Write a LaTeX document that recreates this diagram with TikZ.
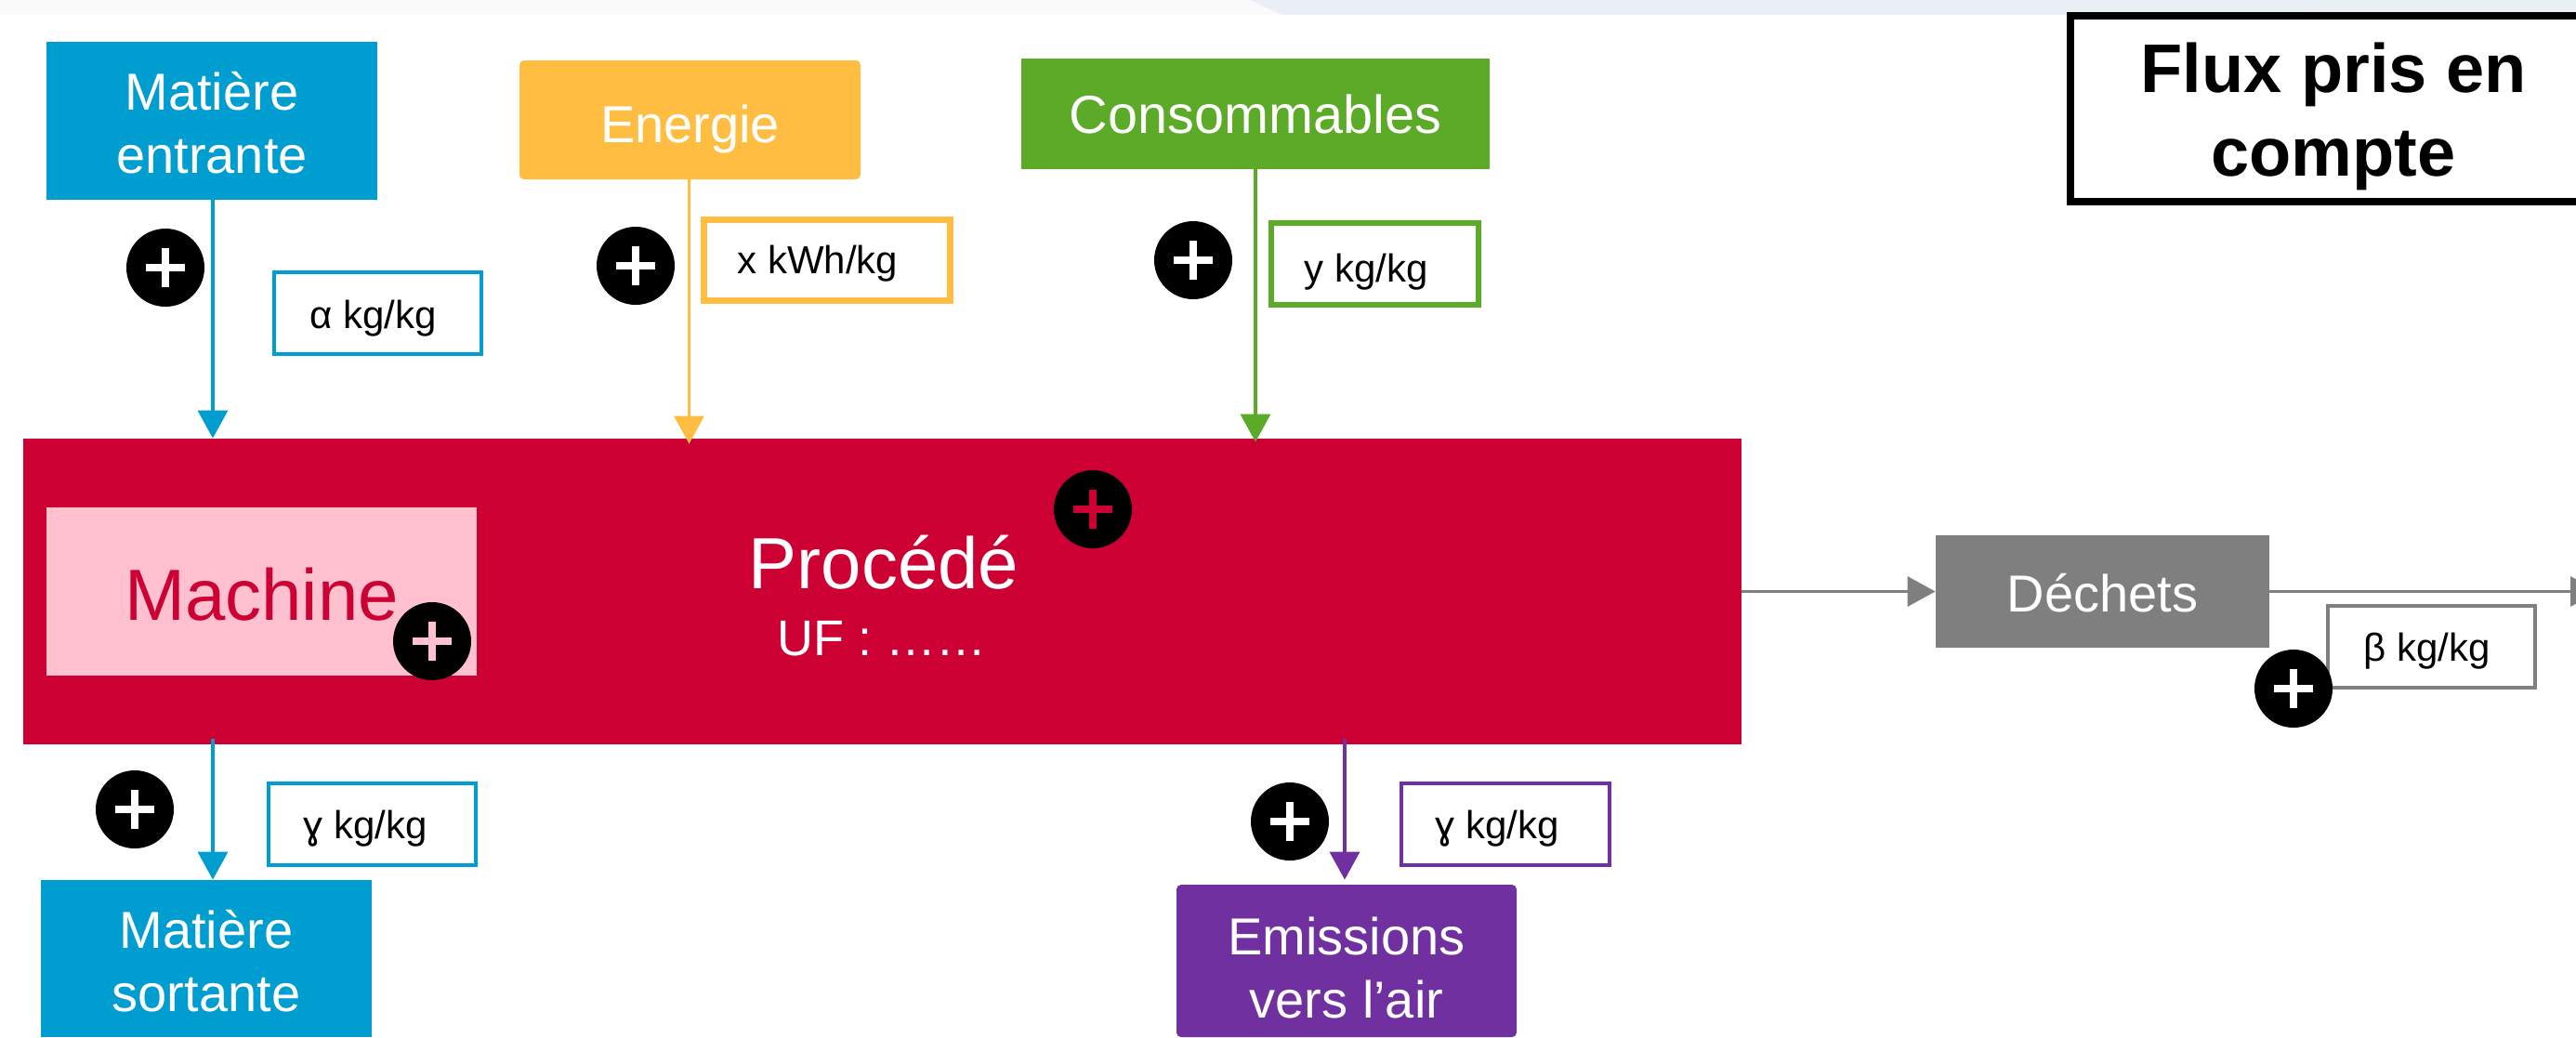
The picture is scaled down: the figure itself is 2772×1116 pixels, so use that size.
\documentclass[tikz,border=0pt]{standalone}
\usepackage{fontspec}
\setmainfont{Liberation Sans}
\usetikzlibrary{arrows.meta,calc}
\definecolor{cblue}{HTML}{009DD1}
\definecolor{cyellow}{HTML}{FFBD41}
\definecolor{cgreen}{HTML}{5BAB28}
\definecolor{cred}{HTML}{CC0033}
\definecolor{cpurple}{HTML}{7030A0}
\definecolor{cgrey}{HTML}{7F7F7F}
\definecolor{cpink}{HTML}{FFC0D0}
\definecolor{cband}{HTML}{EAEEF5}
\definecolor{cbandr}{HTML}{E8F0F4}
\definecolor{cbandl}{HTML}{FAFAFA}
\tikzset{
  x=0.5pt,y=-0.5pt,
  boxn/.style={rectangle,inner sep=0pt,text=white,align=center,font=\fontsize{28}{34}\selectfont},
  tagn/.style={rectangle,inner sep=0pt,draw=#1,fill=white,text=black,font=\fontsize{21}{25}\selectfont},
  drop/.style={text height=#1,text depth=0pt},
  plusn/.style={circle,fill=black,inner sep=0pt,minimum size=42pt,
    path picture={\fill[#1] ([shift={(-10.5pt,-2pt)}]path picture bounding box.center) rectangle ++(21pt,4pt);
      \fill[#1] ([shift={(-2pt,-10.5pt)}]path picture bounding box.center) rectangle ++(4pt,21pt);}},
  arr/.style={draw=#1,line width=1.75pt,-{Triangle[length=15pt,width=16pt,fill=#1]}},
}
\begin{document}
\begin{tikzpicture}
\useasboundingbox (0,0) rectangle (2772,1116);
% top band
\fill[cbandl] (0,0) rectangle (2772,16);
\fill[cbandr] (2490,0) rectangle (2772,16);
\fill[cband] (1345,0) -- (2490,0) -- (2490,16) -- (1380,16) -- cycle;
% process
\node[boxn,fill=cred,minimum width=924.5pt,minimum height=164.5pt] (proc) at (949.5,636.5) {};
\node[rectangle,fill=cpink,minimum width=231.5pt,minimum height=90.5pt,inner sep=0pt,text=cred,font=\fontsize{39}{46}\selectfont,drop=30.5pt] (mach) at (281.5,636.5) {Machine};
\node[anchor=base,inner sep=0pt,text=white,font=\fontsize{39}{46}\selectfont] (proct) at (951,633) {Procédé};
\node[anchor=base,inner sep=0pt,text=white,font=\fontsize{27}{32}\selectfont] (uf) at (949,705) {UF : ……};
\node[plusn=cred] (pproc) at (1176,548) {};
\node[plusn=cpink] (pmach) at (465,690) {};
% sources
\node[boxn,fill=cblue,minimum width=178pt,minimum height=85pt,drop=56pt] (me) at (228,130) {Matière\\entrante};
\node[boxn,fill=cyellow,rounded corners=2.5pt,minimum width=183.5pt,minimum height=64pt,drop=24pt] (en) at (742.5,129) {Energie};
\node[boxn,fill=cgreen,minimum width=252pt,minimum height=59.5pt,drop=20.5pt,font=\fontsize{28.8}{34}\selectfont] (co) at (1351,122.5) {Consommables};
\node[boxn,fill=cblue,minimum width=178pt,minimum height=84.5pt,drop=56.5pt] (ms) at (222,1031.5) {Matière\\sortante};
\node[boxn,fill=cpurple,rounded corners=2.5pt,minimum width=183pt,minimum height=82pt,drop=61pt] (em) at (1449,1034) {Emissions\\vers l’air};
\node[boxn,fill=cgrey,minimum width=179.5pt,minimum height=60.5pt,drop=21.5pt] (de) at (2262.5,636.5) {Déchets};
\coordinate (out) at (2796,636.5);
% connectors
\draw[arr=cblue] ([xshift=0.5pt]me.south) -- ([xshift=0.5pt]me.south |- proc.north);
\draw[arr=cyellow,shorten >=-3pt] ([xshift=-0.5pt]en.south) -- ([xshift=-0.5pt]en.south |- proc.north);
\draw[arr=cgreen,shorten >=-2pt] (co.south) -- (co.south |- proc.north);
\draw[arr=cblue,shorten <=-3pt] ([xshift=3.5pt]ms.north |- proc.south) -- ([xshift=3.5pt]ms.north);
\draw[arr=cpurple,shorten <=-3pt,shorten >=2.5pt] ([xshift=-1pt]em.north |- proc.south) -- ([xshift=-1pt]em.north);
\draw[arr=cgrey] (proc.east |- de.west) -- (de.west);
\draw[arr=cgrey] (de.east) -- (out);
% quantity tags
\node[tagn=cblue,line width=2pt,minimum width=111.5pt,minimum height=44pt,drop=16pt] (ta) at (406.5,337) {α kg/kg\kern5pt};
\node[tagn=cyellow,line width=3.5pt,minimum width=132.5pt,minimum height=43.5pt,drop=14pt] (tx) at (890,280) {x kWh/kg\kern10pt};
\node[tagn=cgreen,line width=3pt,minimum width=111.5pt,minimum height=44pt,drop=19pt] (ty) at (1479.5,284) {y kg/kg\kern9pt};
\node[tagn=cblue,line width=2pt,minimum width=111.5pt,minimum height=44pt,drop=15pt] (tg) at (400.5,887) {ɣ kg/kg\kern7pt};
\node[tagn=cpurple,line width=2pt,minimum width=112pt,minimum height=44pt,drop=15pt] (tp) at (1620,887) {ɣ kg/kg\kern9pt};
\node[tagn=cgrey,line width=2pt,minimum width=111.5pt,minimum height=44pt,drop=15pt] (tb) at (2616.5,696) {β kg/kg\kern5pt};
% plus marks
\node[plusn=white] (p1) at (178,288) {};
\node[plusn=white] (p2) at (684,286) {};
\node[plusn=white] (p3) at (1284,280) {};
\node[plusn=white] (p4) at (145,871) {};
\node[plusn=white] (p5) at (1388,884) {};
\node[plusn=white] (p6) at (2468,741) {};
% title
\node[rectangle,draw=black,line width=4pt,fill=white,minimum width=283pt,minimum height=100pt,inner sep=0pt,align=center,font=\fontsize{37}{45}\selectfont\bfseries,drop=72pt] (fx) at (2511,117) {Flux pris en\\compte};
\end{tikzpicture}
\end{document}
